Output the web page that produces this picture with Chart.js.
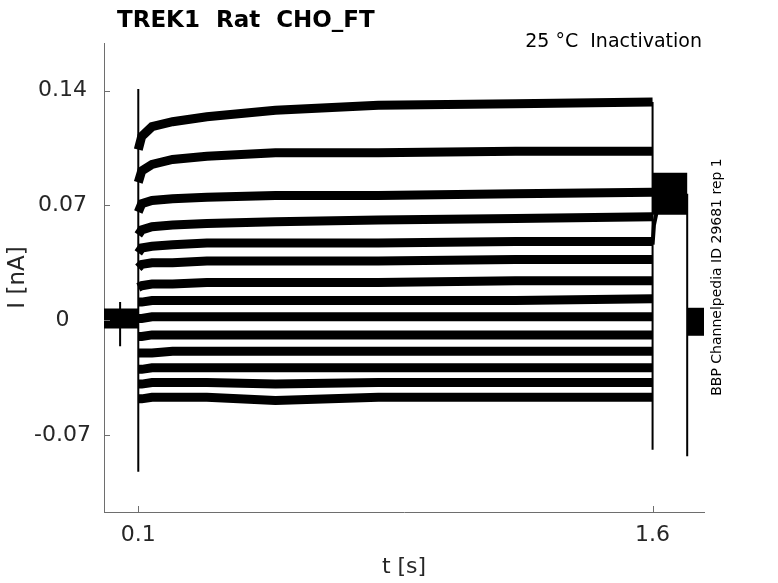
<!DOCTYPE html>
<html>
<head>
<meta charset="utf-8">
<title>TREK1 Rat CHO_FT</title>
<script src="https://cdn.jsdelivr.net/npm/chart.js@4.4.1/dist/chart.umd.min.js"></script>
<style>
  html, body { margin: 0; padding: 0; background: #fff; }
  #wrap { width: 778px; height: 583px; }
</style>
</head>
<body>
<div id="wrap"><canvas id="trace-chart" width="778" height="583"></canvas></div>
<script>
/* ── Axis ticks ─────────────────────────────────────────────── */
const xTicks = [0.1, 1.6];
const yTicks = [-0.07, 0, 0.07, 0.14];

/* ── Sweeps during the step (t in s, I in nA) ───────────────── */
const stepTimes = [0.1, 0.11, 0.14, 0.2, 0.3, 0.5, 0.8, 1.2, 1.6];
const sweep01 = [0.104, 0.112, 0.118, 0.121, 0.124, 0.128, 0.131, 0.132, 0.133];
const sweep02 = [0.084, 0.091, 0.095, 0.098, 0.100, 0.102, 0.102, 0.103, 0.103];
const sweep03 = [0.066, 0.071, 0.073, 0.074, 0.075, 0.076, 0.076, 0.077, 0.078];
const sweep04 = [0.052, 0.055, 0.057, 0.058, 0.059, 0.060, 0.061, 0.062, 0.063];
const sweep05 = [0.041, 0.044, 0.045, 0.046, 0.047, 0.047, 0.047, 0.048, 0.048];
const sweep06 = [0.032, 0.034, 0.035, 0.035, 0.036, 0.036, 0.036, 0.037, 0.037];
const sweep07 = [0.020, 0.021, 0.022, 0.022, 0.023, 0.023, 0.023, 0.024, 0.024];
const sweep08 = [0.011, 0.011, 0.012, 0.012, 0.012, 0.012, 0.012, 0.012, 0.013];
const sweep09 = [0.001, 0.001, 0.002, 0.002, 0.002, 0.002, 0.002, 0.002, 0.002];
const sweep10 = [-0.010, -0.010, -0.009, -0.009, -0.009, -0.009, -0.009, -0.009, -0.009];
const sweep11 = [-0.020, -0.020, -0.020, -0.019, -0.019, -0.019, -0.019, -0.019, -0.019];
const sweep12 = [-0.030, -0.030, -0.029, -0.029, -0.029, -0.029, -0.029, -0.029, -0.029];
const sweep13 = [-0.039, -0.039, -0.038, -0.038, -0.038, -0.039, -0.038, -0.038, -0.038];
const sweep14 = [-0.048, -0.048, -0.047, -0.047, -0.047, -0.049, -0.047, -0.047, -0.047];
const sweeps = [sweep01, sweep02, sweep03, sweep04, sweep05, sweep06, sweep07,
                sweep08, sweep09, sweep10, sweep11, sweep12, sweep13, sweep14];

/* ── Holding / tail segments: [t, I] ────────────────────────── */
const holdBefore = [[0, 0.001], [0.1, 0.001]];
const tailPulse  = [[1.6, 0.077], [1.701, 0.077]];
const tailOnset  = [[1.6, 0.046], [1.604, 0.058], [1.612, 0.066]];
const holdAfter  = [[1.701, -0.001], [1.75, -0.001]];

/* ── Capacitive artefacts: [t, I] ───────────────────────────── */
const blipEarly   = [[0.047, 0.011], [0.047, -0.016]];
const spikeOnset  = [[0.1, 0.141], [0.1, -0.0925]];
const spikeOffset = [[1.6, 0.133], [1.6, -0.079]];
const spikeTail   = [[1.701, 0.077], [1.701, -0.083]];

const INK  = '#000000';
const AXIS = '#6e6e6e';
const TEXT = '#262626';
const FONT = "'DejaVu Sans', sans-serif";

const toXY = pairs => pairs.map(p => ({ x: p[0], y: p[1] }));

function lineSet(points, width) {
  return {
    data: points, showLine: true, borderColor: INK, backgroundColor: INK,
    borderWidth: width, pointRadius: 0, tension: 0, borderCapStyle: 'butt'
  };
}

const datasets = [];
sweeps.forEach(s => datasets.push(lineSet(stepTimes.map((t, i) => ({ x: t, y: s[i] })), 9)));
datasets.push(lineSet(toXY(holdBefore), 20));
datasets.push(lineSet(toXY(tailPulse), 42));
datasets.push(lineSet(toXY(tailOnset), 4));
datasets.push(lineSet(toXY(holdAfter), 28));
[blipEarly, spikeOnset, spikeOffset, spikeTail].forEach(s => datasets.push(lineSet(toXY(s), 2)));

/* ── Inner tick marks + free text ───────────────────────────── */
const decorations = {
  id: 'decorations',
  afterDraw(chart) {
    const { ctx, chartArea: a, scales: { x, y } } = chart;
    ctx.save();
    ctx.strokeStyle = AXIS;
    ctx.lineWidth = 1;
    ctx.beginPath();
    yTicks.forEach(v => {
      const py = Math.round(y.getPixelForValue(v)) + 0.5;
      ctx.moveTo(a.left, py); ctx.lineTo(a.left + 6, py);
    });
    xTicks.forEach(v => {
      const px = Math.round(x.getPixelForValue(v)) + 0.5;
      ctx.moveTo(px, a.bottom); ctx.lineTo(px, a.bottom - 6);
    });
    ctx.stroke();

    ctx.fillStyle = '#000';
    ctx.textBaseline = 'alphabetic';
    ctx.textAlign = 'left';
    ctx.font = 'bold 23px ' + FONT;
    ctx.fillText('TREK1  Rat  CHO_FT', 117, 27);

    ctx.font = '19px ' + FONT;
    ctx.textAlign = 'right';
    ctx.fillText('25 °C  Inactivation', 702, 47);

    ctx.translate(717, 277);
    ctx.rotate(-Math.PI / 2);
    ctx.textAlign = 'center';
    ctx.textBaseline = 'middle';
    ctx.font = '14px ' + FONT;
    ctx.fillText('BBP Channelpedia ID 29681 rep 1', 0, 0);
    ctx.restore();
  }
};

new Chart(document.getElementById('trace-chart'), {
  type: 'scatter',
  data: { datasets },
  plugins: [decorations],
  options: {
    responsive: false,
    animation: false,
    devicePixelRatio: 1,
    layout: { padding: { top: 43, right: 74, bottom: 0, left: 0 } },
    plugins: { legend: { display: false }, tooltip: { enabled: false } },
    scales: {
      x: {
        type: 'linear', min: 0, max: 1.75,
        afterBuildTicks: s => { s.ticks = xTicks.map(v => ({ value: v })); },
        afterFit: s => { s.height = 71; },
        grid: { drawOnChartArea: false, drawTicks: false },
        border: { display: true, color: AXIS, width: 1 },
        ticks: { color: TEXT, padding: 10, font: { family: FONT, size: 22 },
                 callback: v => String(v) },
        title: { display: true, text: 't [s]', color: TEXT,
                 font: { family: FONT, size: 22 }, padding: { top: 0, bottom: 3 } }
      },
      y: {
        type: 'linear', min: -0.117, max: 0.169,
        afterBuildTicks: s => { s.ticks = yTicks.map(v => ({ value: v })); },
        afterFit: s => { s.width = 104; },
        grid: { drawOnChartArea: false, drawTicks: false },
        border: { display: true, color: AXIS, width: 1 },
        ticks: { color: TEXT, padding: 13, crossAlign: 'center',
                 font: { family: FONT, size: 22 },
                 callback: v => (v === 0 ? '0' : v.toFixed(2)) },
        title: { display: true, text: 'I [nA]', color: TEXT,
                 font: { family: FONT, size: 23 }, padding: { top: 4, bottom: 0 } }
      }
    }
  }
});
</script>
</body>
</html>
